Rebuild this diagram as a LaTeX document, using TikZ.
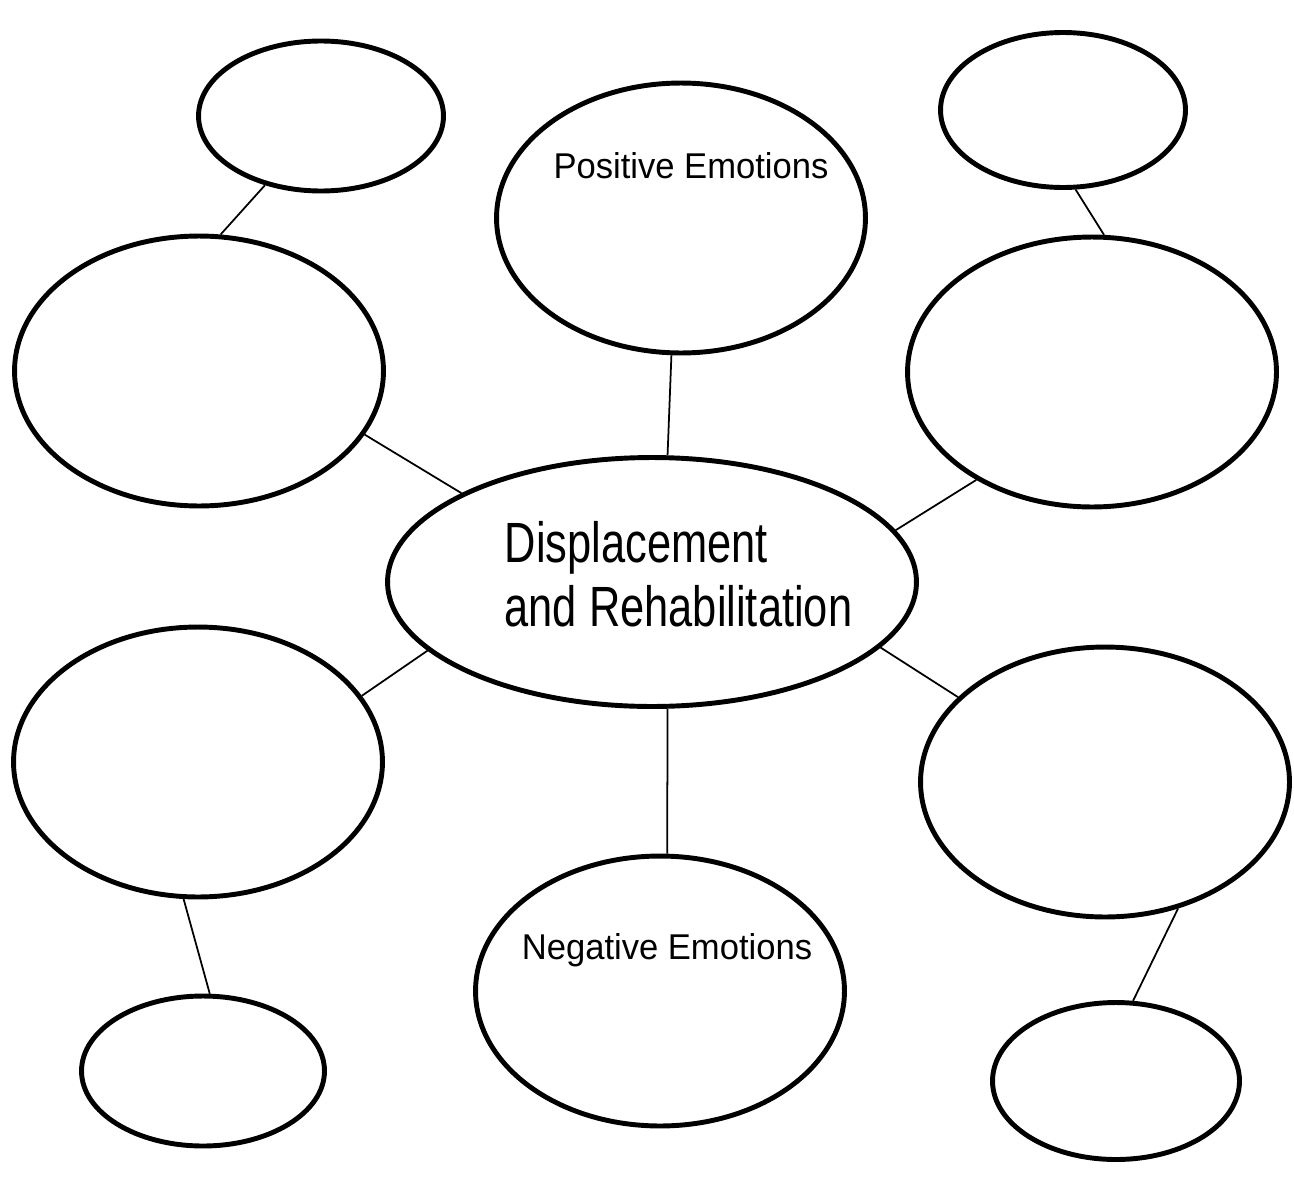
\documentclass[tikz,border=0pt]{standalone}
\usepackage{fontspec}
\setmainfont{Liberation Sans}
\usetikzlibrary{shapes.geometric,positioning}

\newcommand{\narrow}[2]{\scalebox{#1}[1]{#2}}

\begin{document}
\begin{tikzpicture}[
    x=0.02cm, y=-0.02cm,
    bubble/.style={draw, ellipse, line width=2.8pt, inner sep=0pt},
    small/.style={bubble, minimum width=4.9cm, minimum height=3.0cm},
    big/.style={bubble, minimum width=7.38cm, minimum height=5.4cm},
    link/.style={line width=1pt},
    caption/.style={font=\fontsize{20.4}{24}\selectfont}
]
\useasboundingbox (0,0) rectangle (1294,1183);

% centre
\node (hub) [bubble, minimum width=10.58cm, minimum height=4.98cm] at (652,582) {};
\node (hubtext) [font=\fontsize{32.3}{36.4}\selectfont, align=left, inner sep=0pt, xshift=0.53cm, yshift=0.15cm] at (hub.center) {\narrow{0.765}{Displacement}\\\narrow{0.765}{and Rehabilitation}};

% ring of bubbles
\node (pos) [big, label={[caption, xshift=0.2cm, yshift=1.04cm]center:\narrow{0.965}{Positive Emotions}}] at (681,218) {};
\node (neg) [big, label={[caption, xshift=0.14cm, yshift=0.82cm]center:\narrow{0.965}{Negative Emotions}}] at (660,991) {};
\node (upleft) [big] at (199,371) {};
\node (upright) [big] at (1092,372) {};
\node (lowleft) [big] at (198,762) {};
\node (lowright) [big] at (1105,782) {};

% outer small ones
\node (topleft) [small] at (321,116) {};
\node (topright) [small, minimum height=3.1cm] at (1063,110) {};
\node (botleft) [small, minimum width=4.86cm] at (203,1071) {};
\node (botright) [small, minimum width=4.94cm, minimum height=3.14cm] at (1116,1081) {};

\draw [link] (pos.266) -- (hub.83);
\draw [link] (hub.277) -- (neg.87);
\draw [link] (upleft.339) -- (hub.155);
\draw [link] (upright.223) -- (hub.12);
\draw [link] (hub.197) -- (lowleft.22);
\draw [link] (hub.344) -- (lowright.150);
\draw [link] (topleft.231) -- (upleft.81);
\draw [link] (topright.279) -- (upright.85);
\draw [link] (lowleft.264) -- (botleft.85);
\draw [link] (lowright.300) -- (botright.78);
\end{tikzpicture}
\end{document}
